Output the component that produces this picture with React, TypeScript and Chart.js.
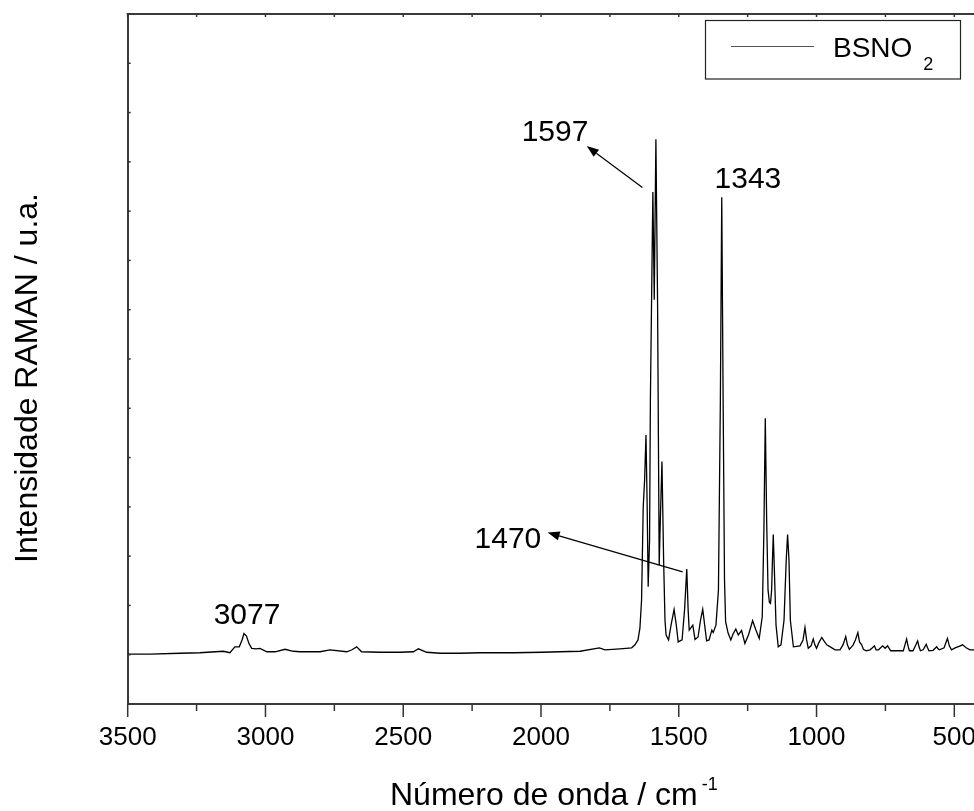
import React, { useEffect, useRef } from 'react';
import { Chart, registerables } from 'chart.js';

Chart.register(...registerables);

// Raman shift (cm-1), descending
const wavenumbers = [
  3500, 3419, 3310, 3238, 3153, 3129, 3111, 3095, 3085, 3078, 3069, 3060, 3050, 3034, 3020, 2995, 2965, 2929, 2899, 2875,
  2802, 2766, 2705, 2686, 2669, 2651, 2584, 2512, 2463, 2445, 2415, 2366, 2294, 2221, 2100, 1996, 1931, 1858, 1788, 1768,
  1713, 1671, 1659, 1648, 1641, 1635, 1629, 1624, 1619, 1615, 1611, 1606, 1603, 1594, 1589, 1583, 1577, 1571, 1567, 1561,
  1555, 1550, 1546, 1537, 1528, 1517, 1509, 1502, 1488, 1479, 1471, 1466, 1462, 1449, 1441, 1430, 1421, 1413, 1406, 1399,
  1390, 1380, 1375, 1365, 1356, 1349, 1344, 1339, 1334, 1330, 1321, 1311, 1303, 1293, 1284, 1272, 1260, 1247, 1232, 1220,
  1208, 1197, 1191, 1186, 1181, 1176, 1171, 1167, 1163, 1160, 1157, 1153, 1147, 1139, 1129, 1118, 1110, 1105, 1100, 1095,
  1084, 1060, 1049, 1042, 1036, 1030, 1020, 1012, 1006, 1000, 992, 981, 973, 963, 950, 933, 915, 904, 894, 888,
  881, 873, 867, 859, 850, 844, 836, 830, 820, 806, 797, 790, 784, 775, 760, 751, 742, 731, 708, 685,
  679, 673, 668, 663, 650, 641, 633, 628, 623, 613, 602, 597, 592, 577, 564, 559, 554, 537, 525, 518,
  510, 497, 483, 470, 457, 443, 428,
];

// Raman intensity (a.u.)
const intensities = [
  101, 101, 103, 104, 107, 104, 116, 116, 130, 143, 138, 123, 113, 112, 113, 106, 106, 111, 107, 106,
  106, 110, 106, 110, 116, 106, 105, 105, 106, 112, 105, 103, 103, 104, 104, 105, 106, 107, 114, 110,
  112, 114, 120, 130, 154, 211, 400, 454, 546, 414, 238, 333, 617, 1039, 820, 1146, 820, 282, 373, 492,
  292, 170, 140, 130, 160, 192, 160, 126, 130, 191, 274, 191, 150, 160, 131, 136, 170, 192, 160, 128,
  130, 150, 145, 160, 231, 617, 1028, 617, 252, 167, 144, 130, 142, 152, 140, 149, 123, 140, 169, 150,
  133, 177, 353, 580, 373, 231, 206, 204, 231, 292, 344, 272, 160, 116, 120, 170, 292, 344, 292, 170,
  116, 118, 130, 155, 130, 113, 118, 132, 120, 113, 124, 135, 128, 120, 116, 110, 110, 120, 137, 120,
  111, 116, 120, 130, 145, 126, 120, 111, 108, 110, 114, 118, 110, 110, 118, 113, 118, 108, 108, 108,
  120, 132, 118, 108, 108, 118, 128, 116, 108, 110, 121, 114, 108, 109, 116, 112, 110, 114, 133, 118,
  110, 114, 117, 120, 114, 110, 110,
];

const seriesName = 'BSNO';
const seriesSubscript = '2';
const xMajorTicks = [3500, 3000, 2500, 2000, 1500, 1000, 500];
const xMinorTicks = [3250, 2750, 2250, 1750, 1250, 750];
const yTicks = [0, 100, 200, 300, 400, 500, 600, 700, 800, 900, 1000, 1100, 1200, 1300, 1400];

// peak annotations (data coordinates)
const peakTexts = ['3077', '1597', '1343', '1470'];
const peakTextX = [3067, 1949, 1249, 2120];
const peakTextY = [179, 1159, 1063, 333];
// arrows: from (x0,y0) to tip (x1,y1), in data coordinates
const arrowFromX = [1632, 1486];
const arrowFromY = [1048, 268];
const arrowToX = [1834, 1976];
const arrowToY = [1132, 348];

const xTitle = 'Número de onda / cm';
const xTitleSup = '-1';
const yTitle = 'Intensidade RAMAN / u.a.';

const FONT = '"Liberation Sans", Arial, Helvetica, sans-serif';

const decorPlugin = {
  id: 'decor',
  afterDraw(chart: any) {
    const ctx = chart.ctx as CanvasRenderingContext2D;
    const xs = chart.scales.x;
    const ys = chart.scales.y;
    const a = chart.chartArea;
    ctx.save();

    // top frame line
    ctx.strokeStyle = '#3a3a3a';
    ctx.lineWidth = 2;
    ctx.beginPath();
    ctx.moveTo(a.left - 1, a.top);
    ctx.lineTo(a.right, a.top);
    ctx.stroke();

    // bottom ticks (outward) & top ticks (inward)
    ctx.lineWidth = 1.5;
    ctx.strokeStyle = '#333';
    const drawX = (v: number, len: number) => {
      const px = xs.getPixelForValue(v);
      ctx.beginPath();
      ctx.moveTo(px, a.bottom);
      ctx.lineTo(px, a.bottom + len);
      ctx.stroke();
      ctx.beginPath();
      ctx.moveTo(px, a.top);
      ctx.lineTo(px, a.top + 3);
      ctx.stroke();
    };
    xMajorTicks.forEach((v) => drawX(v, 13));
    xMinorTicks.forEach((v) => drawX(v, 7));

    // left ticks (inward)
    yTicks.forEach((v) => {
      const py = ys.getPixelForValue(v);
      ctx.beginPath();
      ctx.moveTo(a.left, py);
      ctx.lineTo(a.left + 3, py);
      ctx.stroke();
    });

    // peak labels
    ctx.fillStyle = '#000';
    ctx.font = `30px ${FONT}`;
    ctx.textAlign = 'center';
    ctx.textBaseline = 'middle';
    peakTexts.forEach((t, i) => {
      ctx.fillText(t, xs.getPixelForValue(peakTextX[i]), ys.getPixelForValue(peakTextY[i]));
    });

    // arrows
    ctx.strokeStyle = '#000';
    ctx.lineWidth = 1.2;
    arrowFromX.forEach((_, i) => {
      const x0 = xs.getPixelForValue(arrowFromX[i]);
      const y0 = ys.getPixelForValue(arrowFromY[i]);
      const x1 = xs.getPixelForValue(arrowToX[i]);
      const y1 = ys.getPixelForValue(arrowToY[i]);
      const ang = Math.atan2(y1 - y0, x1 - x0);
      const hl = 12;
      const hw = 4.5;
      const bx = x1 - hl * Math.cos(ang);
      const by = y1 - hl * Math.sin(ang);
      ctx.beginPath();
      ctx.moveTo(x0, y0);
      ctx.lineTo(bx, by);
      ctx.stroke();
      ctx.beginPath();
      ctx.moveTo(x1, y1);
      ctx.lineTo(bx + hw * Math.sin(ang), by - hw * Math.cos(ang));
      ctx.lineTo(bx - hw * Math.sin(ang), by + hw * Math.cos(ang));
      ctx.closePath();
      ctx.fill();
    });

    // legend box
    ctx.strokeStyle = '#222';
    ctx.lineWidth = 1.2;
    ctx.strokeRect(705.5, 20.5, 255, 58.5);
    ctx.strokeStyle = '#555';
    ctx.lineWidth = 1.2;
    ctx.beginPath();
    ctx.moveTo(731, 46.5);
    ctx.lineTo(814, 46.5);
    ctx.stroke();
    ctx.textAlign = 'left';
    ctx.textBaseline = 'alphabetic';
    ctx.font = `28px ${FONT}`;
    ctx.fillText(seriesName, 833, 57);
    const lw = ctx.measureText(seriesName).width;
    ctx.font = `18px ${FONT}`;
    ctx.fillText(seriesSubscript, 833 + lw + 11, 70);

    // x title
    ctx.font = `32px ${FONT}`;
    ctx.fillText(xTitle, 390, 805);
    const tw = ctx.measureText(xTitle).width;
    ctx.font = `18px ${FONT}`;
    ctx.fillText(xTitleSup, 390 + tw + 4, 790);

    // y title
    ctx.translate(28, 378);
    ctx.rotate(-Math.PI / 2);
    ctx.textAlign = 'center';
    ctx.textBaseline = 'middle';
    ctx.font = `32px ${FONT}`;
    ctx.fillText(yTitle, 0, 0);

    ctx.restore();
  },
};

export default function App() {
  const ref = useRef<HTMLCanvasElement | null>(null);

  useEffect(() => {
    document.body.style.margin = '0';
    document.body.style.overflow = 'hidden';
    const canvas = ref.current;
    if (!canvas) return;
    const points = wavenumbers.map((x, i) => ({ x, y: intensities[i] }));
    const chart = new Chart(canvas, {
      type: 'line',
      data: {
        datasets: [
          {
            label: seriesName + seriesSubscript,
            data: points,
            borderColor: '#000',
            borderWidth: 1.3,
            pointRadius: 0,
            tension: 0,
            fill: false,
          },
        ],
      },
      options: {
        animation: false,
        responsive: false,
        devicePixelRatio: 1,
        layout: { padding: { top: 14, left: 0, right: 0, bottom: 0 } },
        plugins: { legend: { display: false }, tooltip: { enabled: false }, title: { display: false } },
        scales: {
          x: {
            type: 'linear',
            reverse: true,
            min: 428.5,
            max: 3500,
            grid: { display: false, drawTicks: false },
            border: { display: true, color: '#3a3a3a', width: 2 },
            ticks: {
              color: '#000',
              font: { family: FONT, size: 26 },
              padding: 18,
              maxRotation: 0,
              autoSkip: false,
              callback: (v: any) => String(v),
            },
            afterBuildTicks: (scale: any) => {
              scale.ticks = xMajorTicks.map((v) => ({ value: v }));
            },
            afterFit: (scale: any) => {
              scale.height = 107;
              scale.paddingLeft = 0;
              scale.paddingRight = 0;
            },
          },
          y: {
            type: 'linear',
            min: 0,
            max: 1400,
            grid: { display: false, drawTicks: false },
            border: { display: true, color: '#3a3a3a', width: 2 },
            ticks: { display: false },
            afterFit: (scale: any) => {
              scale.width = 127.7;
              scale.paddingTop = 0;
              scale.paddingBottom = 0;
            },
          },
        },
      },
      plugins: [decorPlugin],
    } as any);
    return () => chart.destroy();
  }, []);

  return <canvas ref={ref} width={974} height={811} style={{ display: 'block' }} />;
}
